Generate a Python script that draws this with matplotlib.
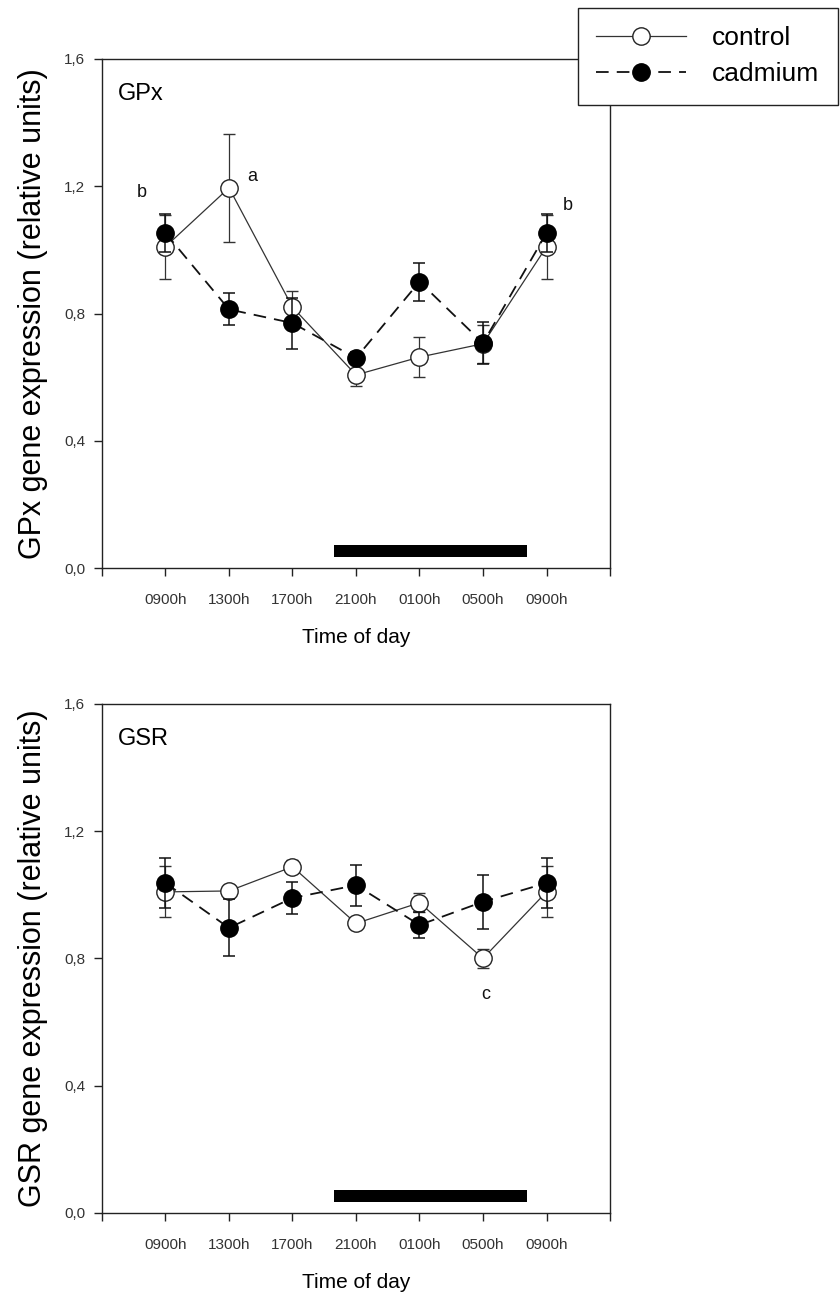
import matplotlib.pyplot as plt
import numpy as np
from matplotlib.lines import Line2D

plt.rcParams['font.family'] = ['Liberation Sans', 'DejaVu Sans']

times = ['0900h', '1300h', '1700h', '2100h', '0100h', '0500h', '0900h']
x = np.arange(len(times))

# GPx
gpx_control = [1.01, 1.195, 0.82, 0.607, 0.663, 0.705, 1.01]
gpx_control_err = [0.10, 0.17, 0.05, 0.035, 0.063, 0.06, 0.10]
gpx_cadmium = [1.053, 0.813, 0.77, 0.66, 0.90, 0.707, 1.053]
gpx_cadmium_err = [0.06, 0.05, 0.08, 0.02, 0.06, 0.065, 0.06]

# GSR
gsr_control = [1.009, 1.012, 1.088, 0.91, 0.975, 0.80, 1.009]
gsr_control_err = [0.08, 0.02, 0.02, 0.01, 0.03, 0.03, 0.08]
gsr_cadmium = [1.037, 0.896, 0.99, 1.03, 0.905, 0.978, 1.037]
gsr_cadmium_err = [0.08, 0.09, 0.05, 0.065, 0.04, 0.085, 0.08]

dark_bar = (2.65, 5.70)   # night period on x scale
yticks = [0.0, 0.4, 0.8, 1.2, 1.6]

panels = [
    dict(name='GPx', ctrl=gpx_control, ctrl_err=gpx_control_err,
         cad=gpx_cadmium, cad_err=gpx_cadmium_err,
         letters=[('b', -0.38, 1.18), ('a', 1.37, 1.23), ('b', 6.33, 1.14)],
         rect=[0.1214, 0.5637, 0.6048, 0.391]),
    dict(name='GSR', ctrl=gsr_control, ctrl_err=gsr_control_err,
         cad=gsr_cadmium, cad_err=gsr_cadmium_err,
         letters=[('c', 5.04, 0.685)],
         rect=[0.1214, 0.0684, 0.6048, 0.391]),
]

fig = plt.figure(figsize=(8.4, 13.02), dpi=100)
axcol = '#222222'

ctrl_style = dict(color='#333333', lw=0.9, marker='o', ms=12.5, mfc='white',
                  mec='#222222', mew=1.0)
cad_style = dict(color='#111111', lw=1.3, marker='o', ms=12.5, mfc='black',
                 mec='black', dashes=(7, 4.5))

for p in panels:
    ax = fig.add_axes(p['rect'])
    ax.errorbar(x, p['ctrl'], yerr=p['ctrl_err'], capsize=4, elinewidth=0.9,
                capthick=0.9, zorder=3, **ctrl_style)
    ax.errorbar(x, p['cad'], yerr=p['cad_err'], ecolor='#111111', capsize=4,
                elinewidth=1.1, capthick=1.1, zorder=4, **cad_style)

    ax.fill_between(dark_bar, 0.035, 0.073, color='black', lw=0, zorder=2)

    for s, lx, ly in p['letters']:
        ax.text(lx, ly, s, fontsize=13, ha='center', va='center', color='#111111')
    ax.text(-0.75, 1.49, p['name'], fontsize=17, ha='left', va='center')

    ax.set_xlim(-1, 7)
    ax.set_ylim(0, 1.6)
    ax.set_xticks([-1] + list(x) + [7])
    ax.set_xticklabels([''] + times + [''], fontsize=11, color='#333333')
    ax.set_yticks(yticks)
    ax.set_yticklabels([('%.1f' % v).replace('.', ',') for v in yticks],
                       fontsize=11, color='#333333')
    ax.tick_params(direction='out', length=6, width=1, color=axcol, pad=6)
    ax.tick_params(axis='x', pad=12)
    for sp in ax.spines.values():
        sp.set_color(axcol)
        sp.set_linewidth(1.0)
    ax.set_xlabel('Time of day', fontsize=15, labelpad=15)
    ax.set_ylabel(p['name'] + ' gene expression (relative units)', fontsize=22, labelpad=12)

handles = [Line2D([], [], **ctrl_style), Line2D([], [], **cad_style)]
leg = fig.legend(handles, ['control', 'cadmium'], loc='upper right',
                 bbox_to_anchor=(838 / 840, 1 - 8 / 1302), fontsize=19,
                 frameon=True, fancybox=False, edgecolor='#222222', framealpha=1,
                 handlelength=3.4, handletextpad=1.0, borderpad=0.7,
                 labelspacing=0.45, borderaxespad=0)
leg.get_frame().set_linewidth(1.0)

fig.savefig('out.png', dpi=100)
